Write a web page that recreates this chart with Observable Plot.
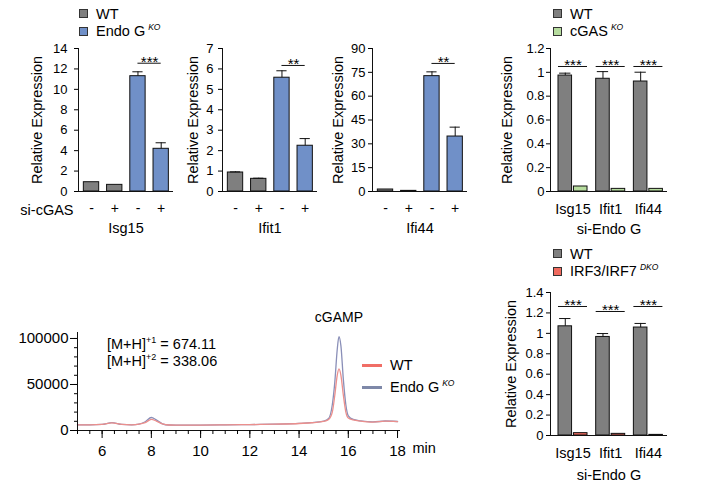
<!DOCTYPE html>
<html><head><meta charset="utf-8">
<script src="https://cdn.jsdelivr.net/npm/d3@7"></script>
<script src="https://cdn.jsdelivr.net/npm/@observablehq/plot@0.6"></script>
<style>
body{margin:0;background:#fff;}
#fig{position:relative;width:707px;height:493px;overflow:hidden;font-family:"Liberation Sans",Arial,Helvetica,sans-serif;color:#000;background:#fff;}
.lg{position:absolute;font-size:14.5px;line-height:1;white-space:nowrap;}
.sw{position:absolute;width:9px;height:9px;border:1px solid #333;box-sizing:border-box;}
.ln{position:absolute;width:20px;height:3px;}
.sup{font-size:8.5px;font-style:italic;position:relative;top:-6px;margin-left:3px;}
.sup2{font-size:9px;position:relative;top:-6px;}
svg{position:absolute;overflow:visible;}
</style></head><body><div id="fig"></div>
<script>
// ---------------- DATA ----------------
const siLabels = ["-", "+", "-", "+"];
const siGenotypes = ["WT", "WT", "KO", "KO"];
const genes = ["Isg15", "Ifit1", "Ifi44"];

const isg15Vals = [0.91, 0.65, 11.29, 4.18];
const isg15Errs = [0, 0, 0.43, 0.59];
const ifit1Vals = [0.93, 0.62, 5.57, 2.24];
const ifit1Errs = [0.03, 0.03, 0.34, 0.35];
const ifi44Vals = [1.26, 0.4, 72.6, 34.6];
const ifi44Errs = [0, 0, 2.7, 5.9];

const isg15Ticks = [0, 2, 4, 6, 8, 10, 12, 14];
const ifit1Ticks = [0, 1, 2, 3, 4, 5, 6, 7];
const ifi44Ticks = [0, 15, 30, 45, 60, 75, 90];
const topSig = ["***", "**", "**"];
const topSigY = [12.56, 6.17, 80.6];

const cgasWT = [0.973, 0.946, 0.923];
const cgasWTErr = [0.02, 0.06, 0.078];
const cgasKO = [0.042, 0.022, 0.022];
const cgasSigY = [1.049, 1.049, 1.049];
const cgasTicks = [0, 0.2, 0.4, 0.6, 0.8, 1, 1.2];

const irfWT = [1.069, 0.965, 1.057];
const irfWTErr = [0.076, 0.033, 0.04];
const irfKO = [0.023, 0.016, 0.006];
const irfSigY = [1.263, 1.214, 1.263];
const irfTicks = [0, 0.2, 0.4, 0.6, 0.8, 1, 1.2, 1.4];
const groupSig = ["***", "***", "***"];

const chromTime = [5, 5.5, 6, 6.4, 6.8, 7.2, 7.5, 7.75, 8, 8.2, 8.45, 8.7, 9, 10, 11, 12, 13, 14, 14.5, 15, 15.2, 15.35, 15.45, 15.55, 15.62, 15.7, 15.8, 15.9, 16, 16.2, 16.5, 17, 17.5, 18];
const chromKO = [6200, 6100, 6600, 8600, 6600, 6200, 7000, 9500, 14100, 11500, 7300, 6000, 5900, 5900, 6100, 6400, 6900, 7700, 8500, 10200, 13000, 28000, 52000, 88000, 102000, 92000, 55000, 28000, 16000, 12000, 10500, 9300, 10300, 9800];
const chromWT = [6200, 6100, 6600, 8300, 6600, 6200, 6900, 8600, 12000, 10300, 7200, 6000, 5900, 5900, 6100, 6400, 6900, 7600, 8400, 9800, 12000, 20000, 38000, 60000, 67000, 60000, 38000, 20000, 13500, 11500, 10300, 9200, 10100, 9700];
const chromXMajor = [6, 8, 10, 12, 14, 16, 18];
const chromXMinor = [5, 5.5, 6, 6.5, 7, 7.5, 8, 8.5, 9, 9.5, 10, 10.5, 11, 11.5, 12, 12.5, 13, 13.5, 14, 14.5, 15, 15.5, 16, 16.5, 17, 17.5, 18];
const chromYMajor = [0, 50000, 100000];
const chromYMinor = [0, 10000, 20000, 30000, 40000, 50000, 60000, 70000, 80000, 90000, 100000];

// ---------------- STYLE ----------------
const FONT = '"Liberation Sans", Arial, Helvetica, sans-serif';
const C = {WT: "#7f7f7f", KO: "#7090c8", cgas: "#b6dc9e", irf: "#f06a5e", lineWT: "#ec8f8c", lineKO: "#8a8fb8", legWT: "#f06e66", legKO: "#7e88a8"};
const fig = document.getElementById("fig");
const baseStyle = {fontFamily: FONT, fontSize: "13px", color: "#000", background: "transparent", overflow: "visible"};

function place(svg, left, top) { svg.style.left = left + "px"; svg.style.top = top + "px"; fig.appendChild(svg); }
function html(cls, left, top, inner, extra) {
  const d = document.createElement("div"); d.className = cls;
  d.style.left = left + "px"; d.style.top = top + "px";
  if (inner != null) d.innerHTML = inner;
  if (extra) Object.assign(d.style, extra);
  fig.appendChild(d); return d;
}
function swatchLegend(x, y, items) {
  items.forEach((it, k) => {
    html("sw", x, y + k * 17.5, null, {background: it.color});
    html("lg", x + 17, y + k * 17.5 - 2.5, it.label);
  });
}
const yLabel = dx => Plot.text(["Relative Expression"], {text: d => d, frameAnchor: "left", textAnchor: "middle", lineAnchor: "middle", rotate: -90, dx, fontSize: 14.5});

// ---------------- FOUR-BAR PANELS ----------------
function fourBar(cfg) {
  const rows = cfg.vals.map((v, i) => ({pos: i + 1, v, e: cfg.errs[i], g: siGenotypes[i]}));
  const erows = rows.filter(d => d.e > 0);
  const x0 = 0.44, x1 = 4.53;
  const marks = [
    Plot.rectY(rows, {x1: d => d.pos - 0.33, x2: d => d.pos + 0.33, y1: 0, y2: "v", fill: d => C[d.g], stroke: "#111", strokeWidth: 1}),
    Plot.ruleX(erows, {x: "pos", y1: "v", y2: d => d.v + d.e, stroke: "#111"}),
    Plot.ruleY(erows, {x1: d => d.pos - 0.22, x2: d => d.pos + 0.22, y: d => d.v + d.e, stroke: "#111"}),
    Plot.ruleX([x0], {stroke: "#111"}),
    Plot.ruleY([0], {stroke: "#111"}),
    Plot.axisY({ticks: cfg.ticks, tickSize: 4, tickPadding: cfg.pad, tickFormat: d => String(d), fontSize: 13, label: null}),
    Plot.axisX({ticks: [1, 2, 3, 4], tickFormat: i => siLabels[i - 1], tickSize: 0, tickPadding: 12, fontSize: 14, label: null}),
    Plot.ruleY([{a: 3, b: 4, y: cfg.sigY}], {x1: "a", x2: "b", y: "y", stroke: "#111"}),
    Plot.text([{x: 3.5, y: cfg.sigY, s: cfg.sig}], {x: "x", y: "y", text: "s", lineAnchor: "bottom", dy: 3.5, fontSize: 15}),
    Plot.text([cfg.gene], {text: d => d, frameAnchor: "bottom", lineAnchor: "middle", dy: 37, fontSize: 14.5}),
    yLabel(cfg.labelDx)
  ];
  if (cfg.rowLabel) marks.push(Plot.text([cfg.rowLabel], {text: d => d, frameAnchor: "bottom-left", textAnchor: "end", lineAnchor: "middle", dx: -5, dy: 19, fontSize: 14.5}));
  const svg = Plot.plot({
    width: 190, height: 240, marginLeft: 78, marginRight: 17, marginTop: 48, marginBottom: 49,
    x: {domain: [x0, x1], label: null},
    y: {domain: [0, cfg.ticks[cfg.ticks.length - 1]], label: null},
    style: baseStyle, marks
  });
  place(svg, cfg.axisX - 78, 0);
}

fourBar({vals: isg15Vals, errs: isg15Errs, ticks: isg15Ticks, sig: topSig[0], sigY: topSigY[0], gene: genes[0], axisX: 78, pad: 7, labelDx: -41, rowLabel: "si-cGAS"});
fourBar({vals: ifit1Vals, errs: ifit1Errs, ticks: ifit1Ticks, sig: topSig[1], sigY: topSigY[1], gene: genes[1], axisX: 222, pad: 5, labelDx: -29});
fourBar({vals: ifi44Vals, errs: ifi44Errs, ticks: ifi44Ticks, sig: topSig[2], sigY: topSigY[2], gene: genes[2], axisX: 372, pad: 3, labelDx: -34});

swatchLegend(79, 9, [{color: C.WT, label: "WT"}, {color: C.KO, label: 'Endo G<span class="sup">KO</span>'}]);

// ---------------- GROUPED PANELS ----------------
function groupPanel(cfg) {
  const rows = [];
  genes.forEach((g, i) => {
    rows.push({pos: i + 1, a: i + 1 - 0.385, b: i + 1 - 0.025, v: cfg.wt[i], e: cfg.wtErr[i], fill: C.WT});
    rows.push({pos: i + 1, a: i + 1 + 0.025, b: i + 1 + 0.385, v: cfg.ko[i], e: 0, fill: cfg.koColor});
  });
  const erows = rows.filter(d => d.e > 0);
  const x0 = 0.403, x1 = 3.507;
  const sigRows = genes.map((g, i) => ({pos: i + 1, y: cfg.sigY[i], s: groupSig[i]}));
  const svg = Plot.plot({
    width: 60 + 117 + 20, height: cfg.h, marginLeft: 60, marginRight: 20, marginTop: cfg.mt, marginBottom: cfg.mb,
    x: {domain: [x0, x1], label: null},
    y: {domain: [0, cfg.ticks[cfg.ticks.length - 1]], label: null},
    style: baseStyle,
    marks: [
      Plot.rectY(rows, {x1: "a", x2: "b", y1: 0, y2: "v", fill: "fill", stroke: "#111", strokeWidth: 1}),
      Plot.ruleX(erows, {x: d => (d.a + d.b) / 2, y1: "v", y2: d => d.v + d.e, stroke: "#111"}),
      Plot.ruleY(erows, {x1: d => (d.a + d.b) / 2 - 0.15, x2: d => (d.a + d.b) / 2 + 0.15, y: d => d.v + d.e, stroke: "#111"}),
      Plot.ruleX([x0], {stroke: "#111"}),
      Plot.ruleY([0], {stroke: "#111"}),
      Plot.axisY({ticks: cfg.ticks, tickSize: 4, tickPadding: cfg.pad, tickFormat: d => String(d), fontSize: 13, label: null}),
      Plot.axisX({ticks: [1, 2, 3], tickFormat: i => genes[i - 1], tickSize: 0, tickPadding: 12, fontSize: 14.5, label: null}),
      Plot.ruleY(sigRows, {x1: d => d.pos - 0.385, x2: d => d.pos + 0.385, y: "y", stroke: "#111"}),
      Plot.text(sigRows, {x: "pos", y: "y", text: "s", lineAnchor: "bottom", dy: 3.5, fontSize: 15}),
      Plot.text(["si-Endo G"], {text: d => d, frameAnchor: "bottom", lineAnchor: "middle", dy: cfg.xlabDy, fontSize: 14.5}),
      yLabel(cfg.labelDx)
    ]
  });
  place(svg, 490, cfg.top);
}

groupPanel({wt: cgasWT, wtErr: cgasWTErr, ko: cgasKO, koColor: C.cgas, sigY: cgasSigY, ticks: cgasTicks, top: 0, h: 240, mt: 48, mb: 49, pad: 2, labelDx: -43.5, xlabDy: 38});
groupPanel({wt: irfWT, wtErr: irfWTErr, ko: irfKO, koColor: C.irf, sigY: irfSigY, ticks: irfTicks, top: 240, h: 255, mt: 52, mb: 60, pad: 3, labelDx: -39, xlabDy: 40});

swatchLegend(553, 9, [{color: C.WT, label: "WT"}, {color: C.cgas, label: 'cGAS<span class="sup">KO</span>'}]);
swatchLegend(553, 249, [{color: C.WT, label: "WT"}, {color: C.irf, label: 'IRF3/IRF7<span class="sup">DKO</span>'}]);

// ---------------- CHROMATOGRAM ----------------
const chrom = chromTime.map((t, i) => ({t, wt: chromWT[i], ko: chromKO[i]}));
const peak = chrom.reduce((m, d) => d.ko > m.ko ? d : m, chrom[0]);
const chromSvg = Plot.plot({
  width: 460, height: 200, marginLeft: 77, marginRight: 60, marginTop: 42, marginBottom: 60,
  x: {domain: [5, 18.12], label: null},
  y: {domain: [0, 106500], label: null},
  style: baseStyle,
  marks: [
    Plot.line(chrom, {x: "t", y: "ko", stroke: C.lineKO, strokeWidth: 1.3, curve: "monotone-x"}),
    Plot.line(chrom, {x: "t", y: "wt", stroke: C.lineWT, strokeWidth: 1.3, curve: "monotone-x"}),
    Plot.ruleX([5], {stroke: "#111"}),
    Plot.ruleY([0], {stroke: "#111"}),
    Plot.axisX({ticks: chromXMinor, tickSize: 4, tickFormat: () => "", label: null}),
    Plot.axisX({ticks: chromXMajor, tickSize: 8, tickPadding: 7, tickFormat: d => String(d), fontSize: 15, label: null}),
    Plot.axisY({ticks: chromYMinor, tickSize: 3, tickFormat: () => "", label: null}),
    Plot.axisY({ticks: chromYMajor, tickSize: 7, tickPadding: 2, tickFormat: d => String(d), fontSize: 15, label: null}),
    Plot.text(["min"], {text: d => d, frameAnchor: "bottom-right", textAnchor: "start", lineAnchor: "middle", dx: 12, dy: 18, fontSize: 14.5}),
    Plot.text([peak], {x: "t", y: "ko", text: () => "cGAMP", dy: -19, fontSize: 14})
  ]
});
place(chromSvg, 0, 290);

html("lg", 107, 337, '[M+H]<span class="sup2">+1</span> = 674.11');
html("lg", 107, 354, '[M+H]<span class="sup2">+2</span> = 338.06');
html("ln", 362, 364, null, {background: C.legWT});
html("ln", 362, 386, null, {background: C.legKO});
html("lg", 390, 358, "WT");
html("lg", 390, 380, 'Endo G<span class="sup">KO</span>');
</script></body></html>
